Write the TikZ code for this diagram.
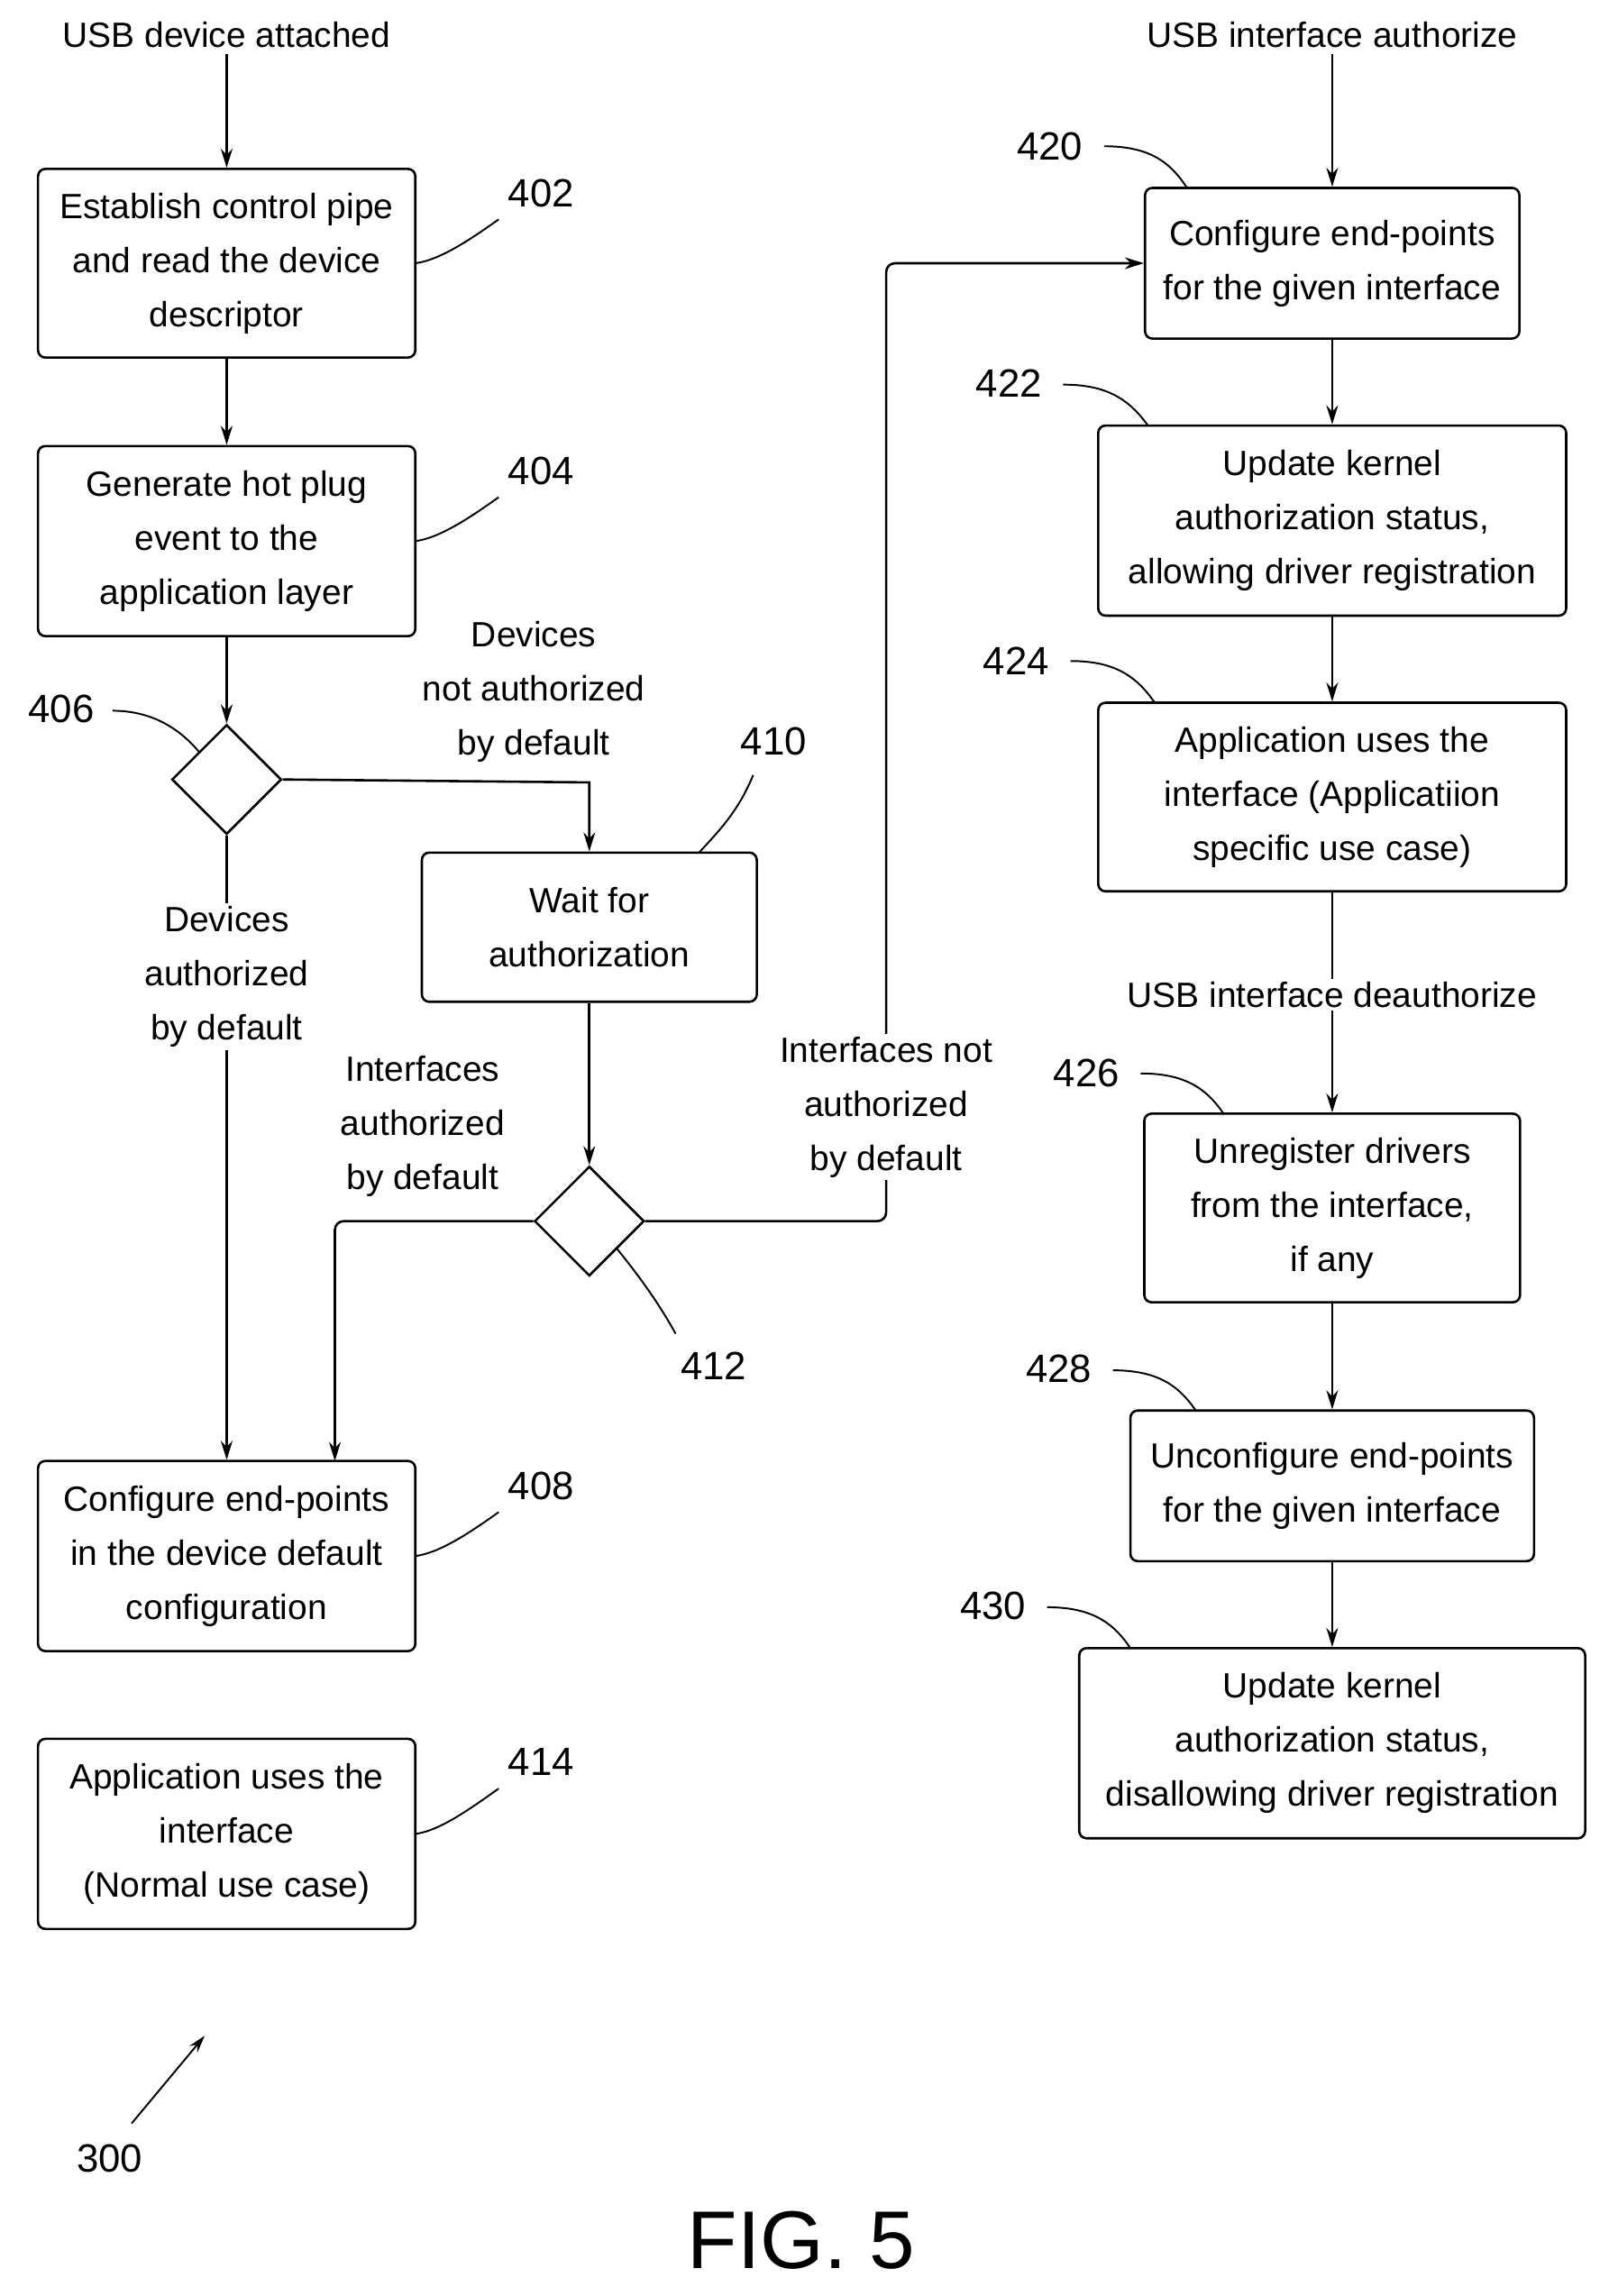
\documentclass[tikz,border=0pt]{standalone}
\usepackage{fontspec}
\setmainfont{Liberation Sans}
\usetikzlibrary{shapes.geometric,arrows.meta}
\begin{document}
\begin{tikzpicture}[x=1pt,y=-1pt,line width=1.6pt,
  every node/.style={font=\fontsize{24}{37}\selectfont,align=center},
  box/.style={draw,rounded corners=5pt,inner sep=0pt},
  dia/.style={draw,diamond,minimum width=75pt,minimum height=75pt,inner sep=0pt},
  arr/.style={-{Stealth[length=13pt,width=8pt]}},
  lab/.style={font=\fontsize{27}{30}\selectfont},
  wl/.style={fill=white,inner sep=2pt},
  lead/.style={line width=1.2pt}]
\useasboundingbox (0,0) rectangle (1100,1570);
% left column
\node (s1) at (155,24) {USB device attached};
\node[box,minimum width=258pt,minimum height=129pt] (b402) at (155,180) {Establish control pipe\\and read the device\\descriptor};
\node[box,minimum width=258pt,minimum height=130pt] (b404) at (155,370) {Generate hot plug\\event to the\\application layer};
\node[dia] (d406) at (155,533) {};
\node[box,minimum width=229pt,minimum height=102pt] (b410) at (403,634) {Wait for\\authorization};
\node[dia] (d412) at (403,835) {};
\node[box,minimum width=258pt,minimum height=130pt] (b408) at (155,1064) {Configure end-points\\in the device default\\configuration};
\node[box,minimum width=258pt,minimum height=130pt] (b414) at (155,1254) {Application uses the\\interface\\(Normal use case)};
% right column
\node (s2) at (911,24) {USB interface authorize};
\node[box,minimum width=256pt,minimum height=103pt] (b420) at (911,180) {Configure end-points\\for the given interface};
\node[box,minimum width=320pt,minimum height=130pt] (b422) at (911,356) {Update kernel\\authorization status,\\allowing driver registration};
\node[box,minimum width=320pt,minimum height=129pt] (b424) at (911,545) {Application uses the\\interface (Applicatiion\\specific use case)};
\node[box,minimum width=257pt,minimum height=129pt] (b426) at (911,826) {Unregister drivers\\from the interface,\\if any};
\node[box,minimum width=276pt,minimum height=103pt] (b428) at (911,1016) {Unconfigure end-points\\for the given interface};
\node[box,minimum width=346pt,minimum height=130pt] (b430) at (911,1192) {Update kernel\\authorization status,\\disallowing driver registration};
% connectors
\draw[arr] (s1) -- (b402);
\draw[arr] (b402) -- (b404);
\draw[arr] (b404) -- (d406);
\coordinate (c1) at (403,535);
\draw[arr] (d406.east) -- (c1) -- (b410.north);
\node[wl] (t1) at (365,473) {Devices\\not authorized\\by default};
\draw[arr] (d406.south) -- (b408.north);
\node[wl] (t2) at (155,668) {Devices\\authorized\\by default};
\draw[arr] (b410) -- (d412.north);
\coordinate (c2) at (229,835);
\coordinate (c3) at (229,999);
\draw[arr,rounded corners=6pt] (d412.west) -- (c2) -- (c3);
\node (t3) at (289,770) {Interfaces\\authorized\\by default};
\coordinate (c4) at (606,835);
\coordinate (c5) at (606,180);
\draw[arr,rounded corners=6pt] (d412.east) -- (c4) -- (c5) -- (b420.west);
\node[wl] (t4) at (606,757) {Interfaces not\\authorized\\by default};
\draw[arr] (s2) -- (b420);
\draw[arr] (b420) -- (b422);
\draw[arr] (b422) -- (b424);
\draw[arr] (b424) -- (b426);
\node[wl] (t5) at (911,680) {USB interface deauthorize};
\draw[arr] (b426) -- (b428);
\draw[arr] (b428) -- (b430);
% reference labels
\node[lab] (l402) at (370,132) {402};
\node[lab] (l404) at (370,322) {404};
\node[lab] (l406) at (42,485) {406};
\node[lab] (l410) at (529,507) {410};
\node[lab] (l412) at (488,934) {412};
\node[lab] (l408) at (370,1016) {408};
\node[lab] (l414) at (370,1205) {414};
\node[lab] (l420) at (718,100) {420};
\node[lab] (l422) at (690,262) {422};
\node[lab] (l424) at (695,452) {424};
\node[lab] (l426) at (743,734) {426};
\node[lab] (l428) at (724,936) {428};
\node[lab] (l430) at (679,1098) {430};
\node[lab] (l300) at (75,1476) {300};
\node[font=\fontsize{56}{60}\selectfont] (fig) at (548,1532) {FIG. 5};
% leaders
\coordinate (p402) at (284,180);
\coordinate (p404) at (284,370);
\coordinate (p408) at (284,1064);
\coordinate (p414) at (284,1254);
\coordinate (p406) at (136,514);
\coordinate (p410) at (478,583);
\coordinate (p412) at (422,854);
\coordinate (p420) at (812,129);
\coordinate (p422) at (785,291);
\coordinate (p424) at (790,481);
\coordinate (p426) at (837,762);
\coordinate (p428) at (818,965);
\coordinate (p430) at (773,1127);
\draw[lead] (341,150) .. controls (320,165) and (300,178) .. (p402);
\draw[lead] (341,340) .. controls (320,355) and (300,368) .. (p404);
\draw[lead] (341,1034) .. controls (320,1049) and (300,1062) .. (p408);
\draw[lead] (341,1223) .. controls (320,1238) and (300,1252) .. (p414);
\draw[lead] (77,486) .. controls (100,486) and (120,495) .. (p406);
\draw[lead] (515,530) .. controls (505,555) and (490,570) .. (p410);
\draw[lead] (462,912) .. controls (450,890) and (435,870) .. (p412);
\draw[lead] (755,100) .. controls (785,100) and (800,110) .. (p420);
\draw[lead] (727,263) .. controls (757,263) and (772,273) .. (p422);
\draw[lead] (732,452) .. controls (762,452) and (777,462) .. (p424);
\draw[lead] (780,734) .. controls (810,734) and (825,744) .. (p426);
\draw[lead] (761,937) .. controls (791,937) and (806,947) .. (p428);
\draw[lead] (716,1099) .. controls (746,1099) and (761,1109) .. (p430);
\coordinate (a300) at (90,1452);
\coordinate (b300) at (140,1392);
\draw[lead,-{Stealth[length=12pt,width=7pt]}] (a300) -- (b300);
\end{tikzpicture}
\end{document}
